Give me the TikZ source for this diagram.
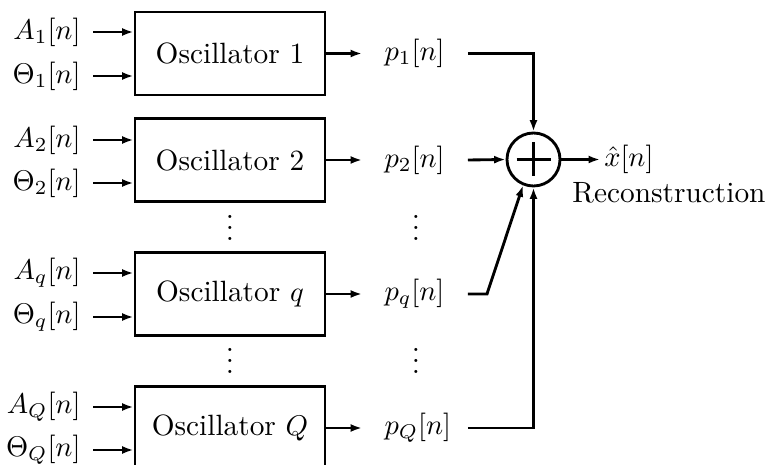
\documentclass[tikz,border=0pt]{standalone}
\usetikzlibrary{arrows.meta}
\newcommand{\threedots}{\vbox{\baselineskip4pt\lineskiplimit0pt\hbox{.}\hbox{.}\hbox{.}}}
\begin{document}
\begin{tikzpicture}[x=0.351pt,y=-0.351pt,line width=1pt,
  every node/.style={font=\fontsize{10.3}{12}\selectfont},
  osc/.style={draw,minimum width=66.7pt,minimum height=29.1pt,inner sep=0pt},
  inlbl/.style={anchor=east,inner xsep=3.9pt,inner ysep=0pt},
  plbl/.style={anchor=west,inner xsep=7.4pt,inner ysep=0pt,text width=21.4pt,align=left},
  dotsnode/.style={inner sep=0pt},
  arr/.style={-{Latex[length=4pt,width=2.8pt]}}]
\path[use as bounding box] (0,0) rectangle (769,465);
\clip (0,0) rectangle (769,465);
% oscillators
\node[osc] (o1) at (230,53.5) {Oscillator 1};
\node[osc] (o2) at (230,160) {Oscillator 2};
\node[osc] (oq) at (230,294) {Oscillator $q$};
\node[osc] (oQ) at (230,428) {Oscillator $Q$};
% inputs
\node[inlbl] (a1) at (93,32) {$A_1[n]$};
\node[inlbl] (t1) at (93,76) {$\Theta_1[n]$};
\node[inlbl] (a2) at (93,140) {$A_2[n]$};
\node[inlbl] (t2) at (93,183) {$\Theta_2[n]$};
\node[inlbl] (aq) at (93,273) {$A_q[n]$};
\node[inlbl] (tq) at (93,317) {$\Theta_q[n]$};
\node[inlbl] (aQ) at (93,407) {$A_Q[n]$};
\node[inlbl] (tQ) at (93,450) {$\Theta_Q[n]$};
\foreach \s/\o in {a1/o1,t1/o1,a2/o2,t2/o2,aq/oq,tq/oq,aQ/oQ,tQ/oQ}
  \draw[arr] (\s.east) -- (\s.east -| \o.west);
% outputs
\node[plbl] (p1) at (362,53.5) {$p_1[n]$};
\node[plbl] (p2) at (362,160) {$p_2[n]$};
\node[plbl] (pq) at (362,294) {$p_q[n]$};
\node[plbl] (pQ) at (362,428) {$p_Q[n]$};
\foreach \o/\p in {o1/p1,o2/p2,oq/pq,oQ/pQ}
  \draw[arr] (\o.east) -- (\p.west);
% vertical dots
\node[dotsnode] (d1) at (230,228) {\threedots};
\node[dotsnode] (d2) at (230,361) {\threedots};
\node[dotsnode] (d3) at (416,228) {\threedots};
\node[dotsnode] (d4) at (416,361) {\threedots};
% summer
\node[draw,circle,minimum size=18.6pt,inner sep=0pt] (sum) at (533.5,159.5) {};
\draw (sum.center) ++(-17,0) -- ++(34,0);
\draw (sum.center) ++(0,-17) -- ++(0,34);
\coordinate (bq) at (487,294);
\draw[arr] (p1.east) -- (p1.east -| sum.north) -- (sum.north);
\draw[arr] (p2.east) -- (sum.west);
\draw[arr] (pq.east) -- (bq) -- (sum.-112);
\draw[arr] (pQ.east) -- (pQ.east -| sum.south) -- (sum.south);
% output
\node[anchor=west,inner xsep=1pt,inner ysep=0pt] (xh) at (600,159.5) {$\hat{x}[n]$};
\draw[arr] (sum.east) -- (xh.west);
\node[inner sep=0pt] (rec) at (669,193) {Reconstruction};
\end{tikzpicture}
\end{document}
